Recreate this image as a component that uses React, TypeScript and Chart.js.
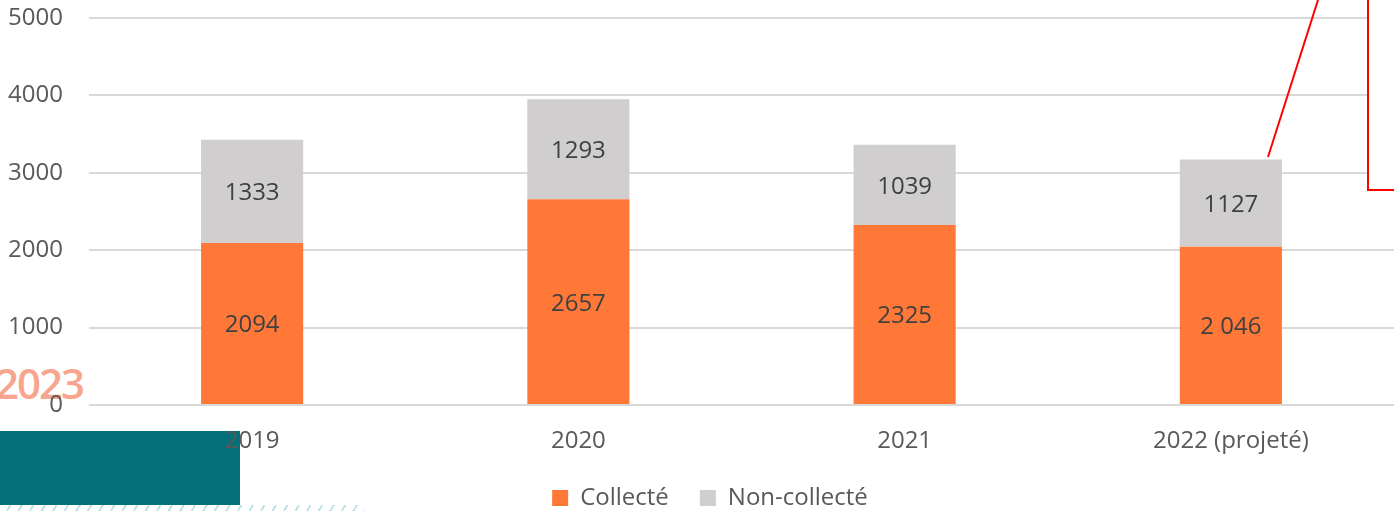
import React, { useEffect, useRef } from "react";
import { Chart, registerables } from "chart.js";

Chart.register(...registerables);

const years = ["2019", "2020", "2021", "2022 (projeté)"];
const collecte = [2094, 2657, 2325, 2046];
const nonCollecte = [1333, 1293, 1039, 1127];
const collecteLabels = ["2094", "2657", "2325", "2 046"];
const nonCollecteLabels = ["1333", "1293", "1039", "1127"];
const seriesNames = ["Collecté", "Non-collecté"];
const yMin = 0;
const yMax = 5000;
const yStep = 1000;

const FONT = "'Open Sans', sans-serif";

const barLabels = {
  id: "barLabels",
  afterDatasetsDraw(chart: any) {
    const ctx = chart.ctx;
    ctx.save();
    ctx.font = `24px ${FONT}`;
    ctx.fillStyle = "#404040";
    ctx.textAlign = "center";
    ctx.textBaseline = "middle";
    chart.data.datasets.forEach((ds: any, i: number) => {
      const meta = chart.getDatasetMeta(i);
      meta.data.forEach((el: any, j: number) => {
        const p = el.getProps(["x", "y", "base"], true);
        ctx.fillText(ds.valueLabels[j], p.x, (p.y + p.base) / 2 + 2);
      });
    });
    ctx.restore();
  },
};

const legendShift = {
  id: "legendShift",
  afterLayout(chart: any) {
    if (chart.legend) chart.legend.left += 26;
  },
};

export default function App() {
  const ref = useRef<HTMLCanvasElement | null>(null);

  useEffect(() => {
    if (!ref.current) return;
    const chart = new Chart(ref.current, {
      type: "bar",
      data: {
        labels: years,
        datasets: [
          {
            label: seriesNames[0],
            data: collecte,
            valueLabels: collecteLabels,
            backgroundColor: "#FF7838",
            borderWidth: 0,
            barPercentage: 0.313,
            categoryPercentage: 1,
          } as any,
          {
            label: seriesNames[1],
            data: nonCollecte,
            valueLabels: nonCollecteLabels,
            backgroundColor: "#D0CECE",
            borderWidth: 0,
            barPercentage: 0.313,
            categoryPercentage: 1,
          } as any,
        ],
      },
      options: {
        responsive: false,
        animation: false,
        devicePixelRatio: 1,
        layout: { padding: { top: 18, left: 0, right: 0, bottom: 0 } },
        font: { family: FONT },
        scales: {
          x: {
            stacked: true,
            grid: { display: false, drawTicks: false },
            border: { display: false },
            ticks: {
              color: "#595959",
              font: { size: 24, family: FONT },
              padding: 22,
              maxRotation: 0,
              autoSkip: false,
            },
            afterFit(scale: any) {
              scale.height = 50;
            },
          },
          y: {
            stacked: true,
            min: yMin,
            max: yMax,
            grid: { color: "#D9D9D9", lineWidth: 2, drawTicks: false },
            border: { display: false },
            ticks: {
              stepSize: yStep,
              color: "#595959",
              font: { size: 24, family: FONT },
              padding: 26,
              callback: (v: any) => String(v),
            },
            afterFit(scale: any) {
              scale.width = 89;
              scale.paddingTop = 14;
              scale.paddingBottom = 14;
            },
          },
        },
        plugins: {
          legend: {
            position: "bottom",
            maxHeight: 56,
            labels: {
              boxWidth: 16,
              boxHeight: 16,
              padding: 31,
              color: "#595959",
              font: { size: 24, family: FONT },
            },
          },
          tooltip: { enabled: false },
        },
      } as any,
      plugins: [barLabels, legendShift],
    });
    return () => chart.destroy();
  }, []);

  return (
    <div style={{ position: "fixed", left: 0, top: 0, width: 1394, height: 511, overflow: "hidden", background: "#fff" }}>
      <div
        style={{
          position: "absolute",
          left: -5,
          top: 358,
          fontFamily: "'Open Sans', sans-serif",
          fontWeight: 600,
          fontSize: 42,
          letterSpacing: -2,
          lineHeight: "50px",
          color: "#F7A58E",
        }}
      >
        2023
      </div>
      <div style={{ position: "absolute", left: 0, top: 431, width: 240, height: 74, background: "#03707A" }} />
      <div
        style={{
          position: "absolute",
          left: 0,
          top: 505,
          width: 365,
          height: 6,
          background:
            "repeating-linear-gradient(120deg, transparent 0px, transparent 8px, #BFE3E6 8px, #BFE3E6 10px)",
        }}
      />
      <canvas ref={ref} width={1394} height={511} style={{ position: "absolute", left: 0, top: 0 }} />
      <svg width={1394} height={511} style={{ position: "absolute", left: 0, top: 0, pointerEvents: "none" }}>
        <rect x={1368} y={-2} width={30} height={191} fill="#fff" stroke="none" />
        <polyline points="1368,0 1368,190 1394,190" fill="none" stroke="#FF0000" strokeWidth={2} />
        <line x1={1268} y1={157} x2={1318} y2={0} stroke="#FF0000" strokeWidth={2} />
      </svg>
    </div>
  );
}
